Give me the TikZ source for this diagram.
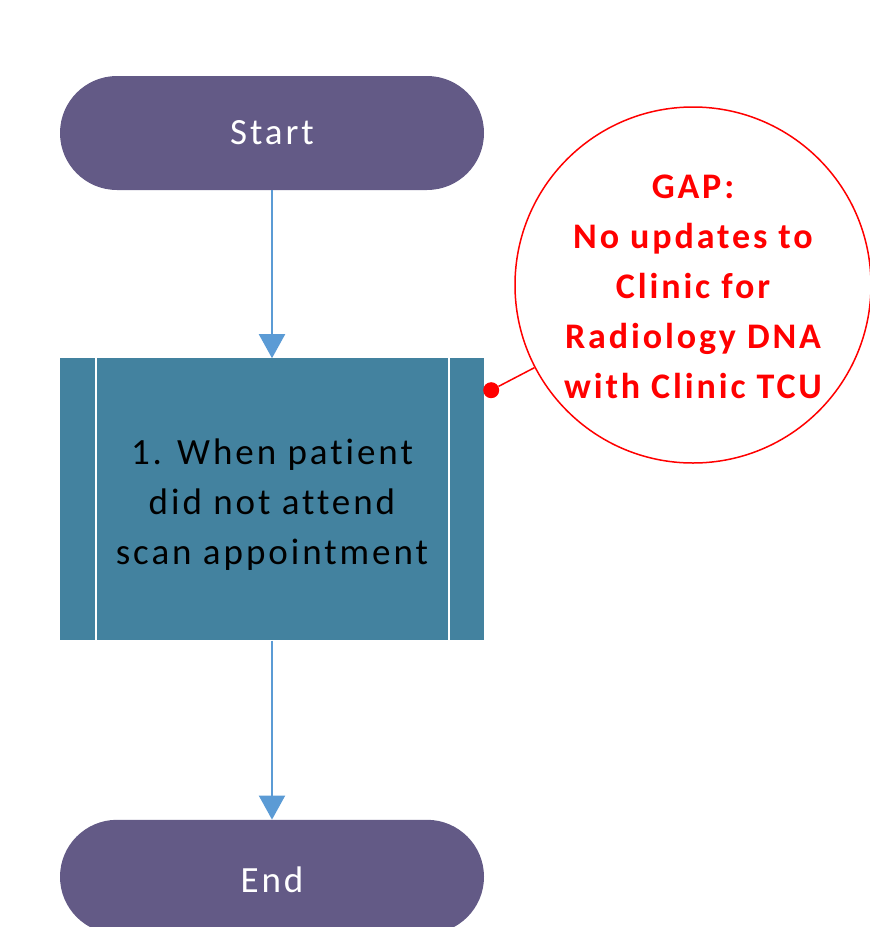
\documentclass[tikz,border=0pt]{standalone}
\usepackage{fontspec}
\setmainfont{Carlito}
\newfontfamily\flowfont[LetterSpace=8,Ligatures=NoCommon]{Carlito}
\usetikzlibrary{arrows.meta,positioning,calc}
\definecolor{termfill}{RGB}{99, 90, 134}
\definecolor{procfill}{RGB}{67, 130, 159}
\definecolor{flowblue}{RGB}{91, 155, 213}
\definecolor{gapred}{RGB}{255, 0, 0}
\tikzset{
  % Start / End
  termbox/.style  = {fill=termfill, rounded corners=57pt, minimum width=424pt,
                     minimum height=114pt, text=white, font=\flowfont\fontsize{37}{44}\selectfont},
  % Jarayon bloki
  procbox/.style  = {fill=procfill, minimum width=424pt, minimum height=282pt,
                     text=black, align=center, font=\flowfont\fontsize{37}{50}\selectfont},
  procline/.style = {white, line width=2pt},
  % Oqim strelkalari
  flowarrow/.style = {-{Triangle[width=26pt,length=24pt]}, line width=2pt, flowblue},
  % GAP izohi
  gapnote/.style  = {circle, draw=gapred, line width=1.5pt, fill=white, minimum size=356pt},
  gaptext/.style  = {text=gapred, align=center, font=\flowfont\bfseries\fontsize{36}{50}\selectfont},
  gapline/.style  = {draw=gapred, line width=1.5pt},
  gapdot/.style   = {circle, fill=gapred, inner sep=0pt, minimum size=16pt},
}
\begin{document}
\begin{tikzpicture}[x=1pt,y=-1pt]
  \useasboundingbox (0,0) rectangle (870,927);
  % Oqim tugunlari
  \node[termbox] (start) at (272,133) {Start};
  \node[procbox, below=168pt of start] (scan) {};
  \node[termbox, below=179pt of scan] (end) {};
  \node[procbox, fill=none, minimum height=0pt] (scantxt) at ($(scan.center)+(0,5)$) {1. When patient\\did not attend\\scan appointment};
  \node[termbox, fill=none, minimum height=0pt] (endtxt) at ($(end.center)+(0,3)$) {End};
  % Ichki chiziqlar
  \draw[procline] ($(scan.north west)+(36,0)$) -- ($(scan.south west)+(36,0)$);
  \draw[procline] ($(scan.north east)+(-35,0)$) -- ($(scan.south east)+(-35,0)$);
  % Strelkalar
  \draw[flowarrow] (start) -- (scan);
  \draw[flowarrow] (scan) -- (end);
  % GAP
  \node[gapnote] (gap) at (693,285) {};
  \node[gaptext] (gaptxt) at ($(gap.center)+(0,2)$) {GAP:\\No updates to\\Clinic for\\Radiology DNA\\with Clinic TCU};
  \node[gapdot] (tag) at ($(scan.north east)+(7,32)$) {};
  \draw[gapline] (tag) -- (gap);
\end{tikzpicture}
\end{document}
